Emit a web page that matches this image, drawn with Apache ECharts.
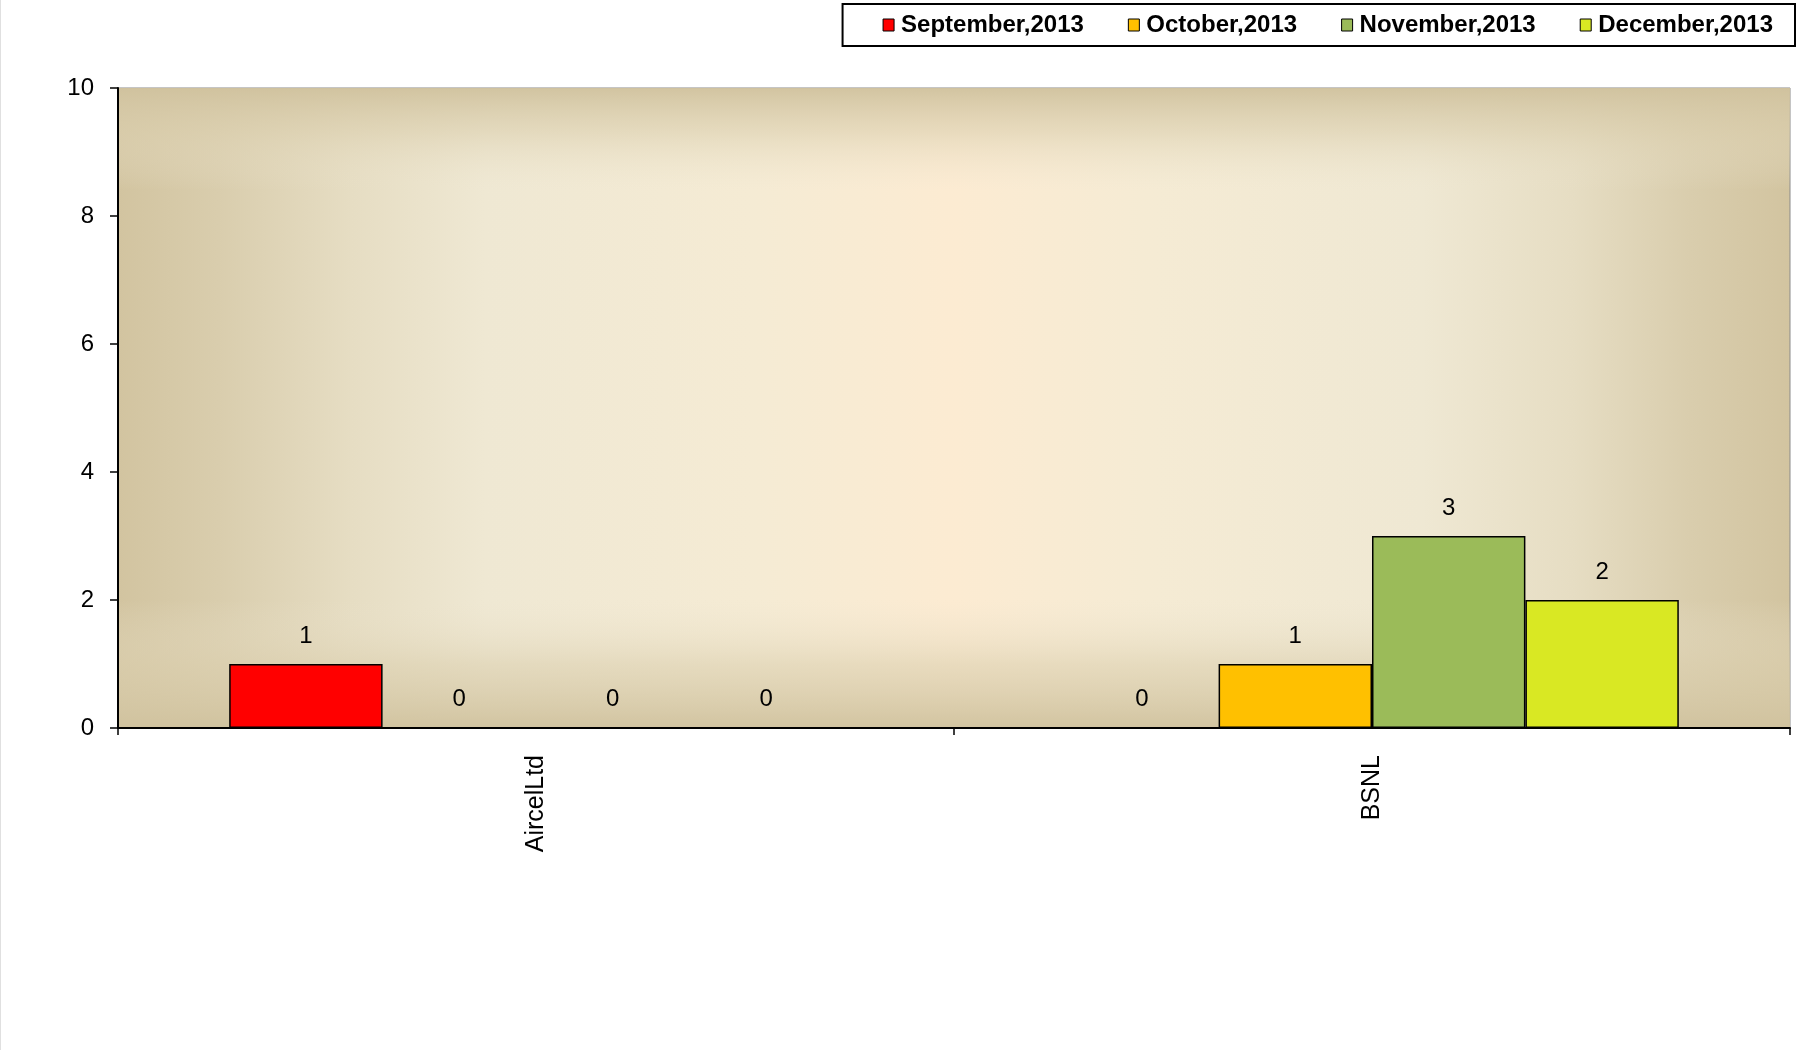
<!DOCTYPE html>
<html>
<head>
<meta charset="utf-8">
<script src="https://cdn.jsdelivr.net/npm/echarts@6/dist/echarts.min.js"></script>
<style>
html,body{margin:0;padding:0;background:#fff;}
#chart{width:1797px;height:1050px;box-sizing:border-box;border-left:1px solid #e0e0e0;}
</style>
</head>
<body>
<div id="chart"></div>
<script>
const categories = ['AircelLtd', 'BSNL'];
const seriesNames = ['September,2013', 'October,2013', 'November,2013', 'December,2013'];
const septemberValues = [1, 0];
const octoberValues = [0, 1];
const novemberValues = [0, 3];
const decemberValues = [0, 2];
const yTicks = [0, 2, 4, 6, 8, 10];

const seriesValues = [septemberValues, octoberValues, novemberValues, decemberValues];
const colors = ['#ff0000', '#ffc000', '#9bbb59', '#d9e823'];

const chart = echarts.init(document.getElementById('chart'));
const gridPos = {left: 117, right: 7, top: 88, bottom: 322};
const font = 'Liberation Sans, Arial, sans-serif';

const option = {
  animation: false,
  legend: {
    show: true,
    right: 2,
    top: 4,
    data: seriesNames,
    icon: 'rect',
    itemWidth: 11,
    itemHeight: 12,
    itemGap: 44,
    borderColor: '#000',
    borderWidth: 2,
    padding: [9, 22, 9, 40],
    textStyle: {fontFamily: font, fontWeight: 'bold', fontSize: 24, color: '#000', padding: [0, 0, 0, 2]},
    itemStyle: {borderColor: '#000', borderWidth: 1}
  },
  grid: [
    Object.assign({
      show: true,
      borderColor: '#8a8a8a',
      borderWidth: 1,
      backgroundColor: {
        type: 'linear', x: 0, y: 0, x2: 1, y2: 0,
        colorStops: [
          {offset: 0, color: '#d2c4a0'},
          {offset: 0.06, color: '#d9cdad'},
          {offset: 0.14, color: '#e6ddc3'},
          {offset: 0.22, color: '#efe8d3'},
          {offset: 0.38, color: '#f5ebd4'},
          {offset: 0.5, color: '#fcebd2'},
          {offset: 0.62, color: '#f5ebd4'},
          {offset: 0.78, color: '#efe8d3'},
          {offset: 0.87, color: '#e6ddc3'},
          {offset: 0.94, color: '#d9cdad'},
          {offset: 1, color: '#d2c4a0'}
        ]
      }
    }, gridPos),
    Object.assign({
      show: true,
      borderWidth: 0,
      backgroundColor: {
        type: 'linear', x: 0, y: 0, x2: 0, y2: 1,
        colorStops: [
          {offset: 0, color: 'rgba(208,194,158,0.95)'},
          {offset: 0.07, color: 'rgba(220,208,176,0.6)'},
          {offset: 0.16, color: 'rgba(236,228,206,0.0)'},
          {offset: 0.8, color: 'rgba(236,228,206,0.0)'},
          {offset: 0.9, color: 'rgba(220,208,176,0.6)'},
          {offset: 1, color: 'rgba(208,194,158,0.95)'}
        ]
      }
    }, gridPos)
  ],
  xAxis: [{
    type: 'category',
    gridIndex: 0,
    data: categories,
    axisLine: {show: true, lineStyle: {color: '#000', width: 2}},
    axisTick: {show: true, alignWithLabel: false, length: 7, lineStyle: {color: '#000', width: 1.5}},
    axisLabel: {rotate: 90, margin: 27, fontFamily: font, fontSize: 25, color: '#000'},
    splitLine: {show: false}
  }, {
    type: 'category', gridIndex: 1, data: categories, show: false
  }],
  yAxis: [{
    type: 'value',
    gridIndex: 0,
    min: yTicks[0],
    max: yTicks[yTicks.length - 1],
    interval: yTicks[1] - yTicks[0],
    axisLine: {show: true, lineStyle: {color: '#000', width: 2}},
    axisTick: {show: true, length: 8, lineStyle: {color: '#000', width: 1.5}},
    axisLabel: {margin: 24, fontFamily: font, fontSize: 24, color: '#000'},
    splitLine: {show: false}
  }, {
    type: 'value', gridIndex: 1, min: 0, max: 10, show: false, splitLine: {show: false}
  }],
  series: seriesNames.map((name, i) => ({
    name: name,
    type: 'bar',
    xAxisIndex: 0,
    yAxisIndex: 0,
    data: seriesValues[i],
    barGap: '0%',
    barCategoryGap: '26.6%',
    itemStyle: {color: colors[i], borderColor: '#000', borderWidth: 1.5},
    label: {
      show: true,
      position: 'top',
      distance: 16,
      fontFamily: font,
      fontSize: 24,
      color: '#000'
    }
  }))
};
chart.setOption(option);
</script>
</body>
</html>
